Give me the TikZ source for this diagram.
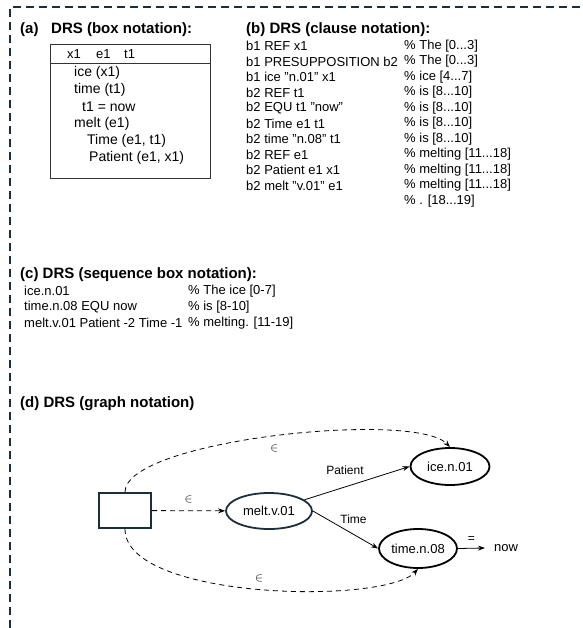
\documentclass[tikz,border=0pt]{standalone}
\usepackage{fontspec}
\setmainfont{Liberation Sans}
\usetikzlibrary{arrows.meta,shapes.geometric}
\definecolor{navy}{HTML}{1B2E3C}
\tikzset{
  txt/.style={anchor=west, inner sep=0pt, font=\fontsize{13}{15}\selectfont},
  btxt/.style={anchor=west, inner sep=0pt, font=\fontsize{14}{16}\selectfont},
  head/.style={anchor=west, inner sep=0pt, font=\fontsize{15}{18}\selectfont\bfseries},
  frame/.style={draw=navy, line width=1.5pt, dash pattern=on 8pt off 5pt},
  ell/.style={draw=black, ellipse, line width=1.8pt, font=\fontsize{13}{15}\selectfont, inner sep=0pt},
  rel/.style={-{Stealth[length=7pt,width=5pt]}, line width=0.8pt},
  mem/.style={rel, dash pattern=on 5pt off 4pt},
  lab/.style={inner sep=0pt, font=\fontsize{12}{14}\selectfont},
}
\begin{document}
\begin{tikzpicture}[x=1pt,y=-1pt]
\useasboundingbox (0,0) rectangle (582,628);
% frame
\coordinate (ftl) at (10,7);
\coordinate (ftr) at (582,7);
\coordinate (fbl) at (10,628);
\draw[frame] (fbl) -- (ftl) -- (ftr);

% (a)
\node[head] (ha) at (20,30) {(a)};
\node[head] (hat) at (51,30) {DRS (box notation):};
\node[draw=black!80, line width=0.9pt, minimum width=160pt, minimum height=134pt, anchor=north west, inner sep=0pt] (boxa) at (50,44) {};
\coordinate (sepl) at (50,63);
\coordinate (sepr) at (210,63);
\draw[black!80, line width=0.9pt] (sepl) -- (sepr);
\node[txt] (vx) at (67,54) {x1};
\node[txt] (ve) at (96,54) {e1};
\node[txt] (vt) at (124,54) {t1};
\node[btxt] (a1) at (74,73) {ice (x1)};
\node[btxt] (a2) at (74,90) {time (t1)};
\node[btxt] (a3) at (82,107) {t1 = now};
\node[btxt] (a4) at (74,124) {melt (e1)};
\node[btxt] (a5) at (87,141) {Time (e1, t1)};
\node[btxt] (a6) at (89,158) {Patient (e1, x1)};

% (b)
\node[head] (hb) at (246,30) {(b) DRS (clause notation):};
\foreach \i/\l/\c in {0/{b1 REF x1}/{\% The [0...3]},
  1/{b1 PRESUPPOSITION b2}/{\% The [0...3]},
  2/{b1 ice "n.01" x1}/{\% ice [4...7]},
  3/{b2 REF t1}/{\% is [8...10]},
  4/{b2 EQU t1 "now"}/{\% is [8...10]},
  5/{b2 Time e1 t1}/{\% is [8...10]},
  6/{b2 time "n.08" t1}/{\% is [8...10]},
  7/{b2 REF e1}/{\% melting [11...18]},
  8/{b2 Patient e1 x1}/{\% melting [11...18]},
  9/{b2 melt "v.01" e1}/{\% melting [11...18]}}{
  \node[txt] (bl\i) at (246,46+15.5*\i) {\l};
  \node[txt] (bc\i) at (404,46+15.5*\i) {\c};
}
\node[txt] (bc10) at (404,201) {\% . [18...19]};

% (c)
\node[head] (hc) at (20,275) {(c) DRS (sequence box notation):};
\node[txt] (c1) at (24,291) {ice.n.01};
\node[txt] (c2) at (24,307) {time.n.08 EQU now};
\node[txt] (c3) at (24,323) {melt.v.01 Patient -2 Time -1};
\node[txt] (cc1) at (188,291) {\% The ice [0-7]};
\node[txt] (cc2) at (188,307) {\% is [8-10]};
\node[txt] (cc3) at (188,323) {\% melting. [11-19]};

% (d)
\node[head] (hd) at (20,404) {(d) DRS (graph notation)};
\node[draw=navy, line width=2pt, minimum width=52pt, minimum height=35pt, inner sep=0pt] (root) at (125,510.5) {};
\node[ell, draw=navy, minimum width=86pt, minimum height=36pt] (melt) at (269,511) {melt.v.01};
\node[ell, minimum width=79pt, minimum height=37pt] (ice) at (450,466.5) {ice.n.01};
\node[ell, minimum width=78pt, minimum height=39pt] (time) at (418,548.5) {time.n.08};
\node[lab, anchor=west, inner xsep=9pt, font=\fontsize{13}{15}\selectfont] (now) at (485,548) {now};

\draw[mem] (root) -- (melt) node[lab, midway, yshift=11pt] {$\in$};
\draw[rel] (melt) -- (ice.west) node[lab, midway, xshift=-12pt, yshift=13pt] {Patient};
\draw[rel] (melt.east) -- (time.west) node[lab, midway, xshift=8pt, yshift=11pt] {Time};
\draw[rel] (time.east) -- (now.west) node[lab, midway, yshift=9pt] {=};
\draw[mem] (root.north) .. controls (125,440) and (415,410) .. (ice.north) node[lab, pos=0.5, yshift=-12pt] {$\in$};
\draw[mem] (root.south) .. controls (125,600) and (385,605) .. (time.south) node[lab, pos=0.5, yshift=11pt] {$\in$};
\end{tikzpicture}
\end{document}
